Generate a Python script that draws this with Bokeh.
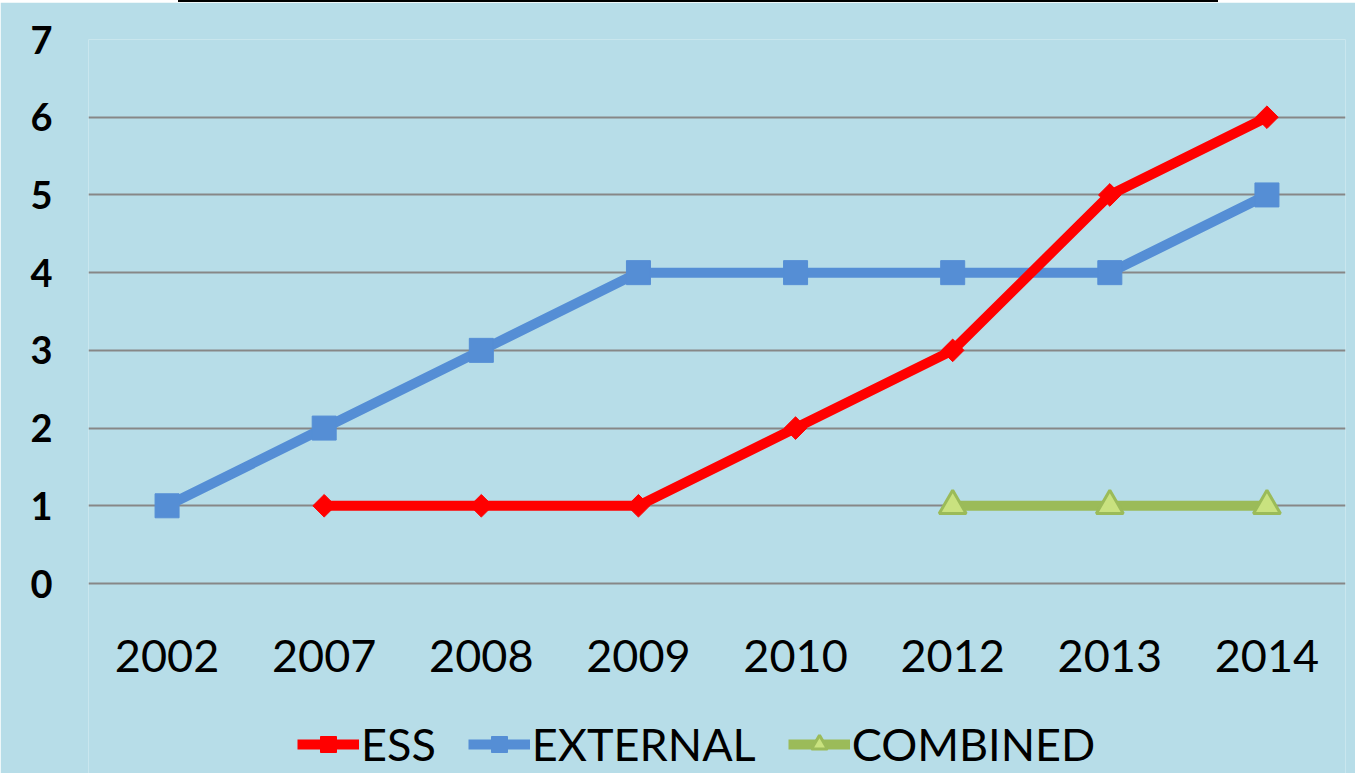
from bokeh.plotting import figure
from bokeh.models import FactorRange, Range1d, Legend, LegendItem, Div, FixedTicker
from bokeh.core.properties import value
from bokeh.layouts import column
from bokeh.embed import file_html
from bokeh.resources import INLINE
import numpy as np

years = ["2002", "2007", "2008", "2009", "2010", "2012", "2013", "2014"]
ess = [np.nan, 1, 1, 1, 2, 3, 5, 6]
external = [1, 2, 3, 4, 4, 4, 4, 5]
combined = [np.nan, np.nan, np.nan, np.nan, np.nan, 1, 1, 1]
y_ticks = [0, 1, 2, 3, 4, 5, 6, 7]

BG = "#B7DDE8"
FONT = "Lato"

# frame extends below the value axis so the category labels and legend sit inside it
PX_PER_UNIT = 544 / 7
FRAME_H = 734
y_bottom = 7 - FRAME_H / PX_PER_UNIT
label_y = -72 / PX_PER_UNIT

p = figure(x_range=FactorRange(*years, range_padding=0), y_range=Range1d(y_bottom, 7),
           frame_width=1257, frame_height=FRAME_H, output_backend="svg", toolbar_location=None,
           background_fill_color=BG, border_fill_color=BG, outline_line_color=None,
           min_border_left=88, min_border_right=10, min_border_top=37, min_border_bottom=0)

p.xaxis.visible = False
p.xgrid.grid_line_color = None
ticker = FixedTicker(ticks=y_ticks)
p.yaxis.ticker = ticker
p.ygrid.ticker = ticker
p.ygrid.grid_line_color = "#878787"
p.ygrid.grid_line_width = 2
ax = p.yaxis
ax.axis_line_color = None
ax.major_tick_line_color = None
ax.minor_tick_line_color = None
ax.major_tick_out = 0
ax.major_tick_in = 0
ax.major_label_text_font = FONT
ax.major_label_text_color = "black"
ax.major_label_text_font_size = "38px"
ax.major_label_text_font_style = "bold"
ax.major_label_standoff = 36

# category labels
p.text(x=years, y=[label_y] * len(years), text=years, text_align="center",
       text_baseline="middle", text_font=value(FONT), text_font_size="45px",
       text_color="black")

l1 = p.line(years, external, line_color="#558ED5", line_width=10)
s1 = p.scatter(years, external, marker="square", size=24, fill_color="#558ED5", line_color="#558ED5")
l2 = p.line(years, ess, line_color="#FF0000", line_width=10)
s2 = p.scatter(years, ess, marker="square", angle=np.pi / 4, size=16,
               fill_color="#FF0000", line_color="#FF0000")
l3 = p.line(years, combined, line_color="#9BBB59", line_width=10)
s3 = p.scatter(years, combined, marker="triangle", size=27, fill_color="#C9E27F",
               line_color="#9BBB59", line_width=3)

legend = Legend(items=[LegendItem(label="ESS", renderers=[l2, s2]),
                       LegendItem(label="EXTERNAL", renderers=[l1, s1]),
                       LegendItem(label="COMBINED", renderers=[l3, s3])],
                orientation="horizontal", location=(209, 2),
                background_fill_alpha=0, border_line_color=None,
                label_text_font=FONT, label_text_font_size="45px", label_text_color="black",
                glyph_width=62, glyph_height=40, label_standoff=2, spacing=32,
                padding=0, margin=0)
p.add_layout(legend, "center")

top = Div(text="", width=1040, height=2, margin=(0, 0, 0, 178),
          styles={"background-color": "black"})
layout = column(top, p, spacing=0)

open("out.html", "w").write(file_html(layout, INLINE))
